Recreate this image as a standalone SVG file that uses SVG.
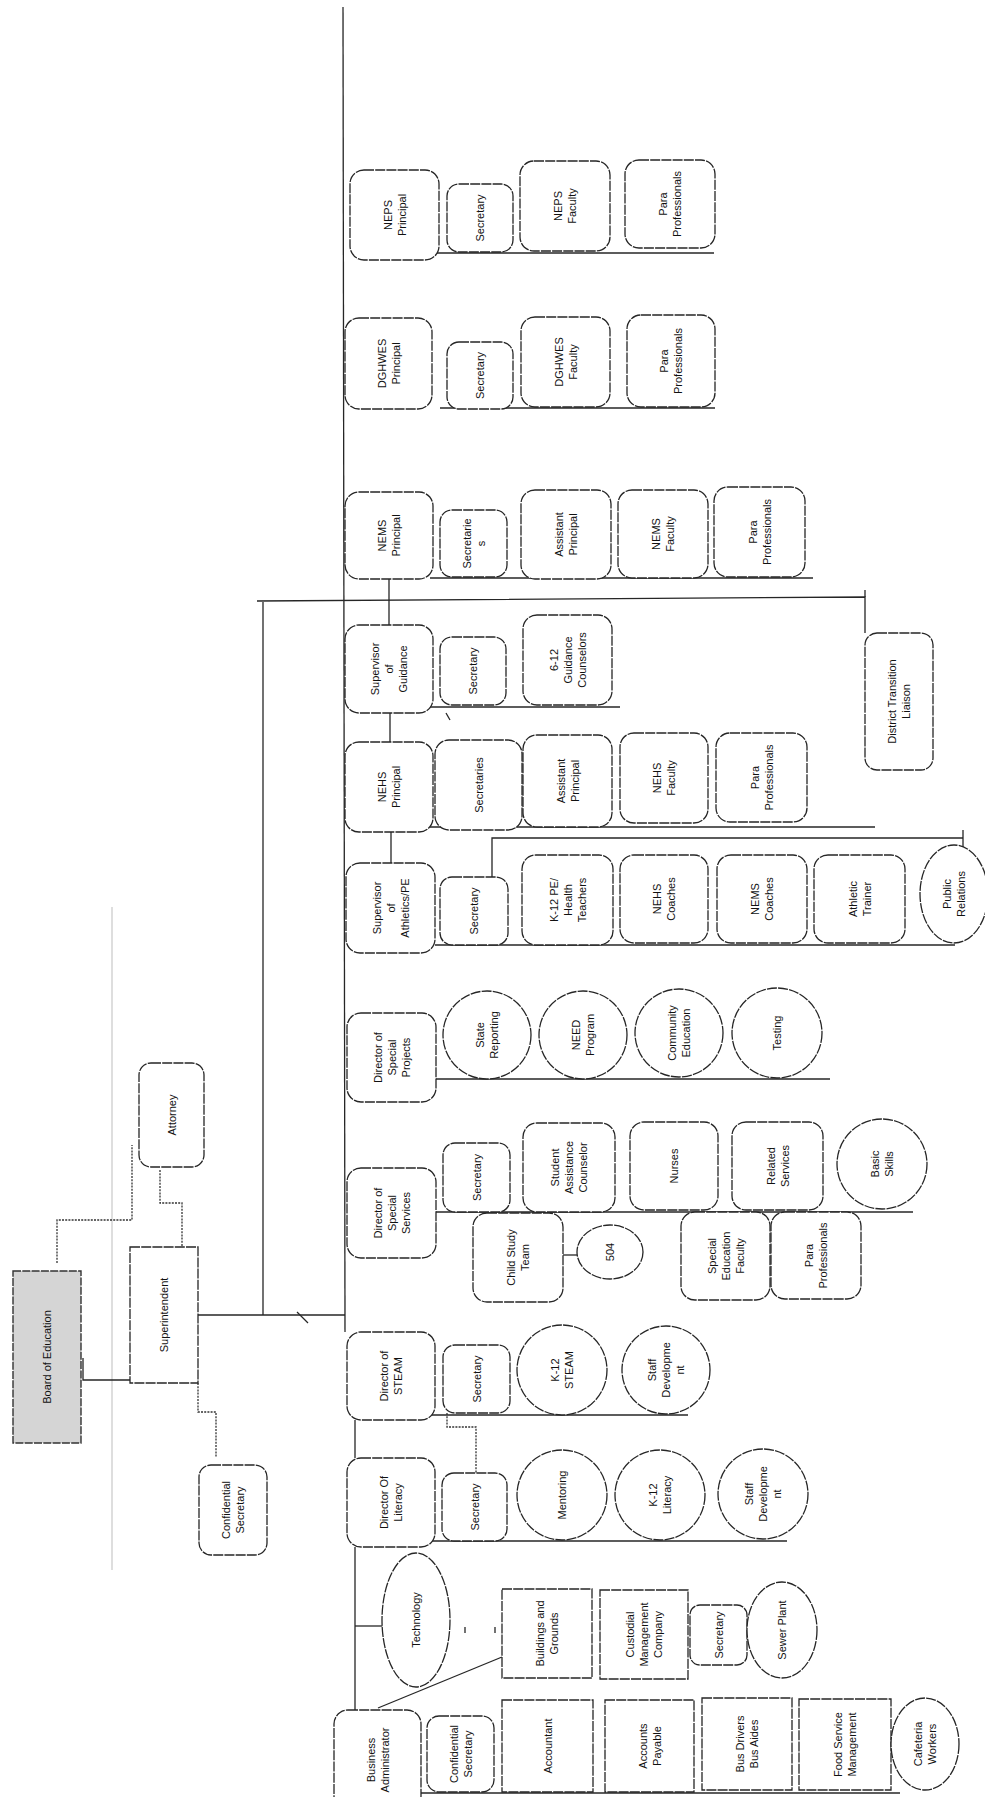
<svg xmlns="http://www.w3.org/2000/svg" width="985" height="1797" viewBox="0 0 985 1797">
<style>
.bg{fill:#ffffff}
.n{fill:#ffffff;stroke:#262626;stroke-width:1.3;stroke-dasharray:10 1.2}
.b{fill:#d5d5d5;stroke:#333333;stroke-width:1.4;stroke-dasharray:8 1.3}
.c{fill:none;stroke:#262626;stroke-width:1.3}
.d{fill:none;stroke:#333333;stroke-width:1.3;stroke-dasharray:2 1.2}
.f{fill:none;stroke:#c8c8c8;stroke-width:1.2}
.t{font-family:"Liberation Sans",Arial,sans-serif;font-size:11px;fill:#111111;text-anchor:middle}
</style>
<rect class="bg" x="0" y="0" width="985" height="1797"/>

<g id="connectors">
  <line class="f" x1="112" y1="907" x2="112" y2="1570"/>
  <polyline class="c" points="343,7 345,1332"/>
  <line class="c" x1="355" y1="1420" x2="355" y2="1458"/>
  <line class="c" x1="355" y1="1547" x2="355" y2="1710"/>
  <line class="c" x1="198" y1="1315" x2="345" y2="1315"/>
  <line class="c" x1="297" y1="1312" x2="308" y2="1323"/>
  <polyline class="c" points="263,1315 263,602"/>
  <polyline class="c" points="257,601 865,597 865,633"/>
  <line class="c" x1="865" y1="590" x2="865" y2="597"/>
  <polyline class="d" points="57,1263 57,1220 132,1220 132,1145"/>
  <polyline class="d" points="160,1170 160,1203 182,1203 182,1247"/>
  <polyline class="c" points="83,1358 83,1380 130,1380"/>
  <polyline class="d" points="198,1383 198,1412 216,1412 216,1457"/>
  <line class="c" x1="435" y1="253" x2="714" y2="253"/>
  <line class="c" x1="440" y1="408" x2="715" y2="408"/>
  <line class="c" x1="430" y1="578" x2="813" y2="578"/>
  <line class="c" x1="389" y1="579" x2="389" y2="625"/>
  <line class="c" x1="428" y1="707" x2="620" y2="707"/>
  <line class="c" x1="446" y1="713" x2="450" y2="720"/>
  <line class="c" x1="390" y1="713" x2="390" y2="742"/>
  <line class="c" x1="430" y1="827" x2="875" y2="827"/>
  <line class="c" x1="391" y1="832" x2="391" y2="863"/>
  <polyline class="c" points="492,877 492,838 963,838"/>
  <line class="c" x1="963" y1="830" x2="963" y2="847"/>
  <line class="c" x1="435" y1="945" x2="955" y2="945"/>
  <line class="c" x1="436" y1="1079" x2="830" y2="1079"/>
  <line class="c" x1="436" y1="1212" x2="913" y2="1212"/>
  <line class="c" x1="563" y1="1255" x2="577" y2="1255"/>
  <line class="c" x1="430" y1="1415" x2="688" y2="1415"/>
  <polyline class="d" points="447,1413 447,1427 476,1427 476,1473"/>
  <line class="c" x1="430" y1="1541" x2="787" y2="1541"/>
  <line class="c" x1="355" y1="1626" x2="383" y2="1626"/>
  <line class="c" x1="465" y1="1627" x2="465" y2="1633"/>
  <line class="c" x1="495" y1="1627" x2="495" y2="1633"/>
  <line class="c" x1="378" y1="1708" x2="502" y2="1657"/>
  <line class="c" x1="421" y1="1793" x2="900" y2="1793"/>
</g>

<g id="board-of-education"><rect class="b" x="13" y="1271" width="68" height="172"/><text class="t" transform="translate(47,1357) rotate(-90)"><tspan x="0" y="4">Board of Education</tspan></text></g>
<g id="superintendent"><rect class="n" x="130" y="1247" width="68" height="136"/><text class="t" transform="translate(164,1315) rotate(-90)"><tspan x="0" y="4">Superintendent</tspan></text></g>
<g id="attorney"><rect class="n" x="139" y="1063" width="65" height="104" rx="12"/><text class="t" transform="translate(171.5,1115) rotate(-90)"><tspan x="0" y="4">Attorney</tspan></text></g>
<g id="confidential-secretary-sup"><rect class="n" x="199" y="1465" width="68" height="90" rx="12"/><text class="t" transform="translate(233,1510) rotate(-90)"><tspan x="0" y="-3">Confidential</tspan><tspan x="0" y="11">Secretary</tspan></text></g>

<g id="neps-principal"><rect class="n" x="350" y="170" width="89" height="90" rx="14"/><text class="t" transform="translate(394.5,215) rotate(-90)"><tspan x="0" y="-3">NEPS</tspan><tspan x="0" y="11">Principal</tspan></text></g>
<g id="neps-secretary"><rect class="n" x="447" y="184" width="66" height="68" rx="12"/><text class="t" transform="translate(480,218) rotate(-90)"><tspan x="0" y="4">Secretary</tspan></text></g>
<g id="neps-faculty"><rect class="n" x="520" y="161" width="90" height="90" rx="14"/><text class="t" transform="translate(565,206) rotate(-90)"><tspan x="0" y="-3">NEPS</tspan><tspan x="0" y="11">Faculty</tspan></text></g>
<g id="neps-para"><rect class="n" x="625" y="160" width="90" height="88" rx="14"/><text class="t" transform="translate(670,204) rotate(-90)"><tspan x="0" y="-3">Para</tspan><tspan x="0" y="11">Professionals</tspan></text></g>

<g id="dghwes-principal"><rect class="n" x="345" y="318" width="87" height="91" rx="14"/><text class="t" transform="translate(388.5,363.5) rotate(-90)"><tspan x="0" y="-3">DGHWES</tspan><tspan x="0" y="11">Principal</tspan></text></g>
<g id="dghwes-secretary"><rect class="n" x="447" y="342" width="66" height="67" rx="12"/><text class="t" transform="translate(480,375.5) rotate(-90)"><tspan x="0" y="4">Secretary</tspan></text></g>
<g id="dghwes-faculty"><rect class="n" x="521" y="317" width="89" height="90" rx="14"/><text class="t" transform="translate(565.5,362) rotate(-90)"><tspan x="0" y="-3">DGHWES</tspan><tspan x="0" y="11">Faculty</tspan></text></g>
<g id="dghwes-para"><rect class="n" x="627" y="315" width="88" height="92" rx="14"/><text class="t" transform="translate(671,361) rotate(-90)"><tspan x="0" y="-3">Para</tspan><tspan x="0" y="11">Professionals</tspan></text></g>

<g id="nems-principal"><rect class="n" x="345" y="492" width="88" height="87" rx="14"/><text class="t" transform="translate(389,535.5) rotate(-90)"><tspan x="0" y="-3">NEMS</tspan><tspan x="0" y="11">Principal</tspan></text></g>
<g id="nems-secretaries"><rect class="n" x="440" y="510" width="67" height="67" rx="12"/><text class="t" transform="translate(473.5,543.5) rotate(-90)"><tspan x="0" y="-3">Secretarie</tspan><tspan x="0" y="11">s</tspan></text></g>
<g id="nems-ap"><rect class="n" x="521" y="490" width="90" height="89" rx="14"/><text class="t" transform="translate(566,534.5) rotate(-90)"><tspan x="0" y="-3">Assistant</tspan><tspan x="0" y="11">Principal</tspan></text></g>
<g id="nems-faculty"><rect class="n" x="618" y="490" width="90" height="88" rx="14"/><text class="t" transform="translate(663,534) rotate(-90)"><tspan x="0" y="-3">NEMS</tspan><tspan x="0" y="11">Faculty</tspan></text></g>
<g id="nems-para"><rect class="n" x="714" y="487" width="91" height="90" rx="14"/><text class="t" transform="translate(759.5,532) rotate(-90)"><tspan x="0" y="-3">Para</tspan><tspan x="0" y="11">Professionals</tspan></text></g>

<g id="supervisor-guidance"><rect class="n" x="345" y="625" width="88" height="88" rx="14"/><text class="t" transform="translate(389,669) rotate(-90)"><tspan x="0" y="-10">Supervisor</tspan><tspan x="0" y="4">of</tspan><tspan x="0" y="18">Guidance</tspan></text></g>
<g id="guidance-secretary"><rect class="n" x="440" y="637" width="66" height="68" rx="12"/><text class="t" transform="translate(473,671) rotate(-90)"><tspan x="0" y="4">Secretary</tspan></text></g>
<g id="guidance-counselors"><rect class="n" x="523" y="615" width="89" height="90" rx="14"/><text class="t" transform="translate(567.5,660) rotate(-90)"><tspan x="0" y="-10">6-12</tspan><tspan x="0" y="4">Guidance</tspan><tspan x="0" y="18">Counselors</tspan></text></g>
<g id="district-transition-liaison"><rect class="n" x="865" y="633" width="68" height="137" rx="12"/><text class="t" transform="translate(899,701.5) rotate(-90)"><tspan x="0" y="-3">District Transition</tspan><tspan x="0" y="11">Liaison</tspan></text></g>

<g id="nehs-principal"><rect class="n" x="345" y="742" width="88" height="90" rx="14"/><text class="t" transform="translate(389,787) rotate(-90)"><tspan x="0" y="-3">NEHS</tspan><tspan x="0" y="11">Principal</tspan></text></g>
<g id="nehs-secretaries"><rect class="n" x="435" y="740" width="87" height="90" rx="14"/><text class="t" transform="translate(478.5,785) rotate(-90)"><tspan x="0" y="4">Secretaries</tspan></text></g>
<g id="nehs-ap"><rect class="n" x="523" y="735" width="89" height="92" rx="14"/><text class="t" transform="translate(567.5,781) rotate(-90)"><tspan x="0" y="-3">Assistant</tspan><tspan x="0" y="11">Principal</tspan></text></g>
<g id="nehs-faculty"><rect class="n" x="620" y="733" width="88" height="90" rx="14"/><text class="t" transform="translate(664,778) rotate(-90)"><tspan x="0" y="-3">NEHS</tspan><tspan x="0" y="11">Faculty</tspan></text></g>
<g id="nehs-para"><rect class="n" x="716" y="733" width="91" height="89" rx="14"/><text class="t" transform="translate(761.5,777.5) rotate(-90)"><tspan x="0" y="-3">Para</tspan><tspan x="0" y="11">Professionals</tspan></text></g>

<g id="supervisor-athletics"><rect class="n" x="346" y="863" width="89" height="90" rx="14"/><text class="t" transform="translate(390.5,908) rotate(-90)"><tspan x="0" y="-10">Supervisor</tspan><tspan x="0" y="4">of</tspan><tspan x="0" y="18">Athletics/PE</tspan></text></g>
<g id="athletics-secretary"><rect class="n" x="440" y="877" width="68" height="68" rx="12"/><text class="t" transform="translate(474,911) rotate(-90)"><tspan x="0" y="4">Secretary</tspan></text></g>
<g id="k12-pe"><rect class="n" x="522" y="855" width="91" height="90" rx="14"/><text class="t" transform="translate(567.5,900) rotate(-90)"><tspan x="0" y="-10">K-12 PE/</tspan><tspan x="0" y="4">Health</tspan><tspan x="0" y="18">Teachers</tspan></text></g>
<g id="nehs-coaches"><rect class="n" x="620" y="855" width="88" height="88" rx="14"/><text class="t" transform="translate(664,899) rotate(-90)"><tspan x="0" y="-3">NEHS</tspan><tspan x="0" y="11">Coaches</tspan></text></g>
<g id="nems-coaches"><rect class="n" x="717" y="855" width="90" height="88" rx="14"/><text class="t" transform="translate(762,899) rotate(-90)"><tspan x="0" y="-3">NEMS</tspan><tspan x="0" y="11">Coaches</tspan></text></g>
<g id="athletic-trainer"><rect class="n" x="814" y="855" width="91" height="88" rx="14"/><text class="t" transform="translate(859.5,899) rotate(-90)"><tspan x="0" y="-3">Athletic</tspan><tspan x="0" y="11">Trainer</tspan></text></g>
<g id="public-relations"><ellipse class="n" cx="954" cy="894" rx="34" ry="49"/><text class="t" transform="translate(954,894) rotate(-90)"><tspan x="0" y="-3">Public</tspan><tspan x="0" y="11">Relations</tspan></text></g>

<g id="director-special-projects"><rect class="n" x="347" y="1013" width="89" height="89" rx="14"/><text class="t" transform="translate(391.5,1057.5) rotate(-90)"><tspan x="0" y="-10">Director of</tspan><tspan x="0" y="4">Special</tspan><tspan x="0" y="18">Projects</tspan></text></g>
<g id="state-reporting"><circle class="n" cx="487" cy="1035" r="44"/><text class="t" transform="translate(487,1035) rotate(-90)"><tspan x="0" y="-3">State</tspan><tspan x="0" y="11">Reporting</tspan></text></g>
<g id="need-program"><circle class="n" cx="583" cy="1035" r="44"/><text class="t" transform="translate(583,1035) rotate(-90)"><tspan x="0" y="-3">NEED</tspan><tspan x="0" y="11">Program</tspan></text></g>
<g id="community-education"><circle class="n" cx="679" cy="1033" r="44"/><text class="t" transform="translate(679,1033) rotate(-90)"><tspan x="0" y="-3">Community</tspan><tspan x="0" y="11">Education</tspan></text></g>
<g id="testing"><circle class="n" cx="777" cy="1033" r="45"/><text class="t" transform="translate(777,1033) rotate(-90)"><tspan x="0" y="4">Testing</tspan></text></g>

<g id="director-special-services"><rect class="n" x="347" y="1168" width="89" height="90" rx="14"/><text class="t" transform="translate(391.5,1213) rotate(-90)"><tspan x="0" y="-10">Director of</tspan><tspan x="0" y="4">Special</tspan><tspan x="0" y="18">Services</tspan></text></g>
<g id="special-services-secretary"><rect class="n" x="443" y="1143" width="67" height="69" rx="12"/><text class="t" transform="translate(476.5,1177.5) rotate(-90)"><tspan x="0" y="4">Secretary</tspan></text></g>
<g id="student-assistance-counselor"><rect class="n" x="523" y="1123" width="92" height="89" rx="14"/><text class="t" transform="translate(569,1167.5) rotate(-90)"><tspan x="0" y="-10">Student</tspan><tspan x="0" y="4">Assistance</tspan><tspan x="0" y="18">Counselor</tspan></text></g>
<g id="nurses"><rect class="n" x="630" y="1122" width="88" height="88" rx="14"/><text class="t" transform="translate(674,1166) rotate(-90)"><tspan x="0" y="4">Nurses</tspan></text></g>
<g id="related-services"><rect class="n" x="732" y="1122" width="91" height="88" rx="14"/><text class="t" transform="translate(777.5,1166) rotate(-90)"><tspan x="0" y="-3">Related</tspan><tspan x="0" y="11">Services</tspan></text></g>
<g id="basic-skills"><circle class="n" cx="882" cy="1164" r="45"/><text class="t" transform="translate(882,1164) rotate(-90)"><tspan x="0" y="-3">Basic</tspan><tspan x="0" y="11">Skills</tspan></text></g>
<g id="child-study-team"><rect class="n" x="473" y="1213" width="90" height="89" rx="14"/><text class="t" transform="translate(518,1257.5) rotate(-90)"><tspan x="0" y="-3">Child Study</tspan><tspan x="0" y="11">Team</tspan></text></g>
<g id="n504"><ellipse class="n" cx="610" cy="1252" rx="33" ry="27"/><text class="t" transform="translate(610,1252) rotate(-90)"><tspan x="0" y="4">504</tspan></text></g>
<g id="special-education-faculty"><rect class="n" x="681" y="1212" width="89" height="88" rx="14"/><text class="t" transform="translate(725.5,1256) rotate(-90)"><tspan x="0" y="-10">Special</tspan><tspan x="0" y="4">Education</tspan><tspan x="0" y="18">Faculty</tspan></text></g>
<g id="special-services-para"><rect class="n" x="771" y="1212" width="90" height="87" rx="14"/><text class="t" transform="translate(816,1255.5) rotate(-90)"><tspan x="0" y="-3">Para</tspan><tspan x="0" y="11">Professionals</tspan></text></g>

<g id="director-steam"><rect class="n" x="347" y="1332" width="88" height="88" rx="14"/><text class="t" transform="translate(391,1376) rotate(-90)"><tspan x="0" y="-3">Director of</tspan><tspan x="0" y="11">STEAM</tspan></text></g>
<g id="steam-secretary"><rect class="n" x="443" y="1345" width="67" height="68" rx="12"/><text class="t" transform="translate(476.5,1379) rotate(-90)"><tspan x="0" y="4">Secretary</tspan></text></g>
<g id="k12-steam"><circle class="n" cx="562" cy="1370" r="45"/><text class="t" transform="translate(562,1370) rotate(-90)"><tspan x="0" y="-3">K-12</tspan><tspan x="0" y="11">STEAM</tspan></text></g>
<g id="steam-staff-development"><circle class="n" cx="666" cy="1370" r="44"/><text class="t" transform="translate(666,1370) rotate(-90)"><tspan x="0" y="-10">Staff</tspan><tspan x="0" y="4">Developme</tspan><tspan x="0" y="18">nt</tspan></text></g>

<g id="director-literacy"><rect class="n" x="347" y="1458" width="88" height="89" rx="14"/><text class="t" transform="translate(391,1502.5) rotate(-90)"><tspan x="0" y="-3">Director Of</tspan><tspan x="0" y="11">Literacy</tspan></text></g>
<g id="literacy-secretary"><rect class="n" x="442" y="1473" width="65" height="68" rx="12"/><text class="t" transform="translate(474.5,1507) rotate(-90)"><tspan x="0" y="4">Secretary</tspan></text></g>
<g id="mentoring"><circle class="n" cx="562" cy="1495" r="45"/><text class="t" transform="translate(562,1495) rotate(-90)"><tspan x="0" y="4">Mentoring</tspan></text></g>
<g id="k12-literacy"><circle class="n" cx="660" cy="1495" r="45"/><text class="t" transform="translate(660,1495) rotate(-90)"><tspan x="0" y="-3">K-12</tspan><tspan x="0" y="11">Literacy</tspan></text></g>
<g id="literacy-staff-development"><circle class="n" cx="763" cy="1494" r="45"/><text class="t" transform="translate(763,1494) rotate(-90)"><tspan x="0" y="-10">Staff</tspan><tspan x="0" y="4">Developme</tspan><tspan x="0" y="18">nt</tspan></text></g>

<g id="technology"><ellipse class="n" cx="416" cy="1620" rx="34" ry="67"/><text class="t" transform="translate(416,1620) rotate(-90)"><tspan x="0" y="4">Technology</tspan></text></g>
<g id="buildings-grounds"><rect class="n" x="502" y="1589" width="90" height="89"/><text class="t" transform="translate(547,1633.5) rotate(-90)"><tspan x="0" y="-3">Buildings and</tspan><tspan x="0" y="11">Grounds</tspan></text></g>
<g id="custodial"><rect class="n" x="600" y="1590" width="88" height="89"/><text class="t" transform="translate(644,1634.5) rotate(-90)"><tspan x="0" y="-10">Custodial</tspan><tspan x="0" y="4">Management</tspan><tspan x="0" y="18">Company</tspan></text></g>
<g id="custodial-secretary"><rect class="n" x="690" y="1605" width="57" height="60" rx="10"/><text class="t" transform="translate(718.5,1635) rotate(-90)"><tspan x="0" y="4">Secretary</tspan></text></g>
<g id="sewer-plant"><ellipse class="n" cx="782" cy="1630" rx="35" ry="48"/><text class="t" transform="translate(782,1630) rotate(-90)"><tspan x="0" y="4">Sewer Plant</tspan></text></g>

<g id="business-administrator"><rect class="n" x="334" y="1710" width="87" height="100" rx="14"/><text class="t" transform="translate(377.5,1760) rotate(-90)"><tspan x="0" y="-3">Business</tspan><tspan x="0" y="11">Administrator</tspan></text></g>
<g id="ba-confidential-secretary"><rect class="n" x="427" y="1716" width="67" height="76" rx="12"/><text class="t" transform="translate(460.5,1754) rotate(-90)"><tspan x="0" y="-3">Confidential</tspan><tspan x="0" y="11">Secretary</tspan></text></g>
<g id="accountant"><rect class="n" x="502" y="1700" width="91" height="92"/><text class="t" transform="translate(547.5,1746) rotate(-90)"><tspan x="0" y="4">Accountant</tspan></text></g>
<g id="accounts-payable"><rect class="n" x="605" y="1700" width="89" height="92"/><text class="t" transform="translate(649.5,1746) rotate(-90)"><tspan x="0" y="-3">Accounts</tspan><tspan x="0" y="11">Payable</tspan></text></g>
<g id="bus-drivers"><rect class="n" x="702" y="1698" width="90" height="92"/><text class="t" transform="translate(747,1744) rotate(-90)"><tspan x="0" y="-3">Bus Drivers</tspan><tspan x="0" y="11">Bus Aides</tspan></text></g>
<g id="food-service"><rect class="n" x="799" y="1699" width="92" height="91"/><text class="t" transform="translate(845,1744.5) rotate(-90)"><tspan x="0" y="-3">Food Service</tspan><tspan x="0" y="11">Management</tspan></text></g>
<g id="cafeteria-workers"><ellipse class="n" cx="925" cy="1744" rx="34" ry="46"/><text class="t" transform="translate(925,1744) rotate(-90)"><tspan x="0" y="-3">Cafeteria</tspan><tspan x="0" y="11">Workers</tspan></text></g>
</svg>
